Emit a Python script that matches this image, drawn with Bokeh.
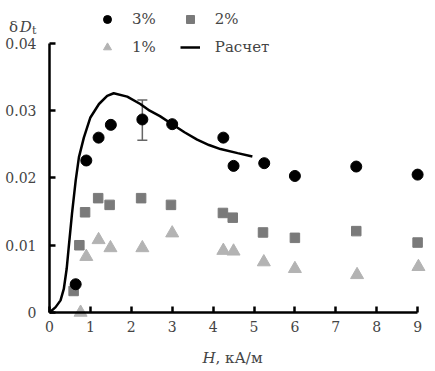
from bokeh.plotting import figure
from bokeh.models import (Range1d, LinearAxis, FixedTicker, CustomJSTickFormatter, Legend, LegendItem,
                          Label, Whisker, TeeHead, ColumnDataSource)
from bokeh.embed import file_html
from bokeh.resources import INLINE

# ---- data ----
h3 = [0.64, 0.9, 1.2, 1.5, 2.27, 3.0, 4.25, 4.5, 5.25, 6.0, 7.5, 9.0]
d3 = [0.0042, 0.0226, 0.0260, 0.0279, 0.0287, 0.0280, 0.0260, 0.0218, 0.0222, 0.0203, 0.0217, 0.0205]

h2 = [0.59, 0.73, 0.87, 1.19, 1.47, 2.24, 2.97, 4.24, 4.48, 5.22, 6.0, 7.5, 9.0]
d2 = [0.0032, 0.0100, 0.0149, 0.0170, 0.0160, 0.0170, 0.0160, 0.0148, 0.0141, 0.0119, 0.0111, 0.0121, 0.0104]

h1 = [0.76, 0.9, 1.2, 1.49, 2.27, 3.0, 4.25, 4.5, 5.24, 6.0, 7.52, 9.02]
d1 = [0.0, 0.0083, 0.0108, 0.0096, 0.0096, 0.0118, 0.0092, 0.0091, 0.0075, 0.0065, 0.0056, 0.0068]

calc_h = [0.0, 0.15, 0.27, 0.35, 0.42, 0.47, 0.55, 0.64, 0.72, 0.84, 1.0, 1.21, 1.41, 1.57,
          1.9, 2.22, 2.45, 2.7, 3.0, 3.3, 3.61, 3.9, 4.18, 4.6, 4.96]
calc_d = [0.0, 0.0008, 0.0018, 0.0035, 0.0065, 0.0097, 0.0147, 0.0196, 0.0231, 0.0260, 0.0290,
          0.0310, 0.0322, 0.0326, 0.0321, 0.0310, 0.0300, 0.0292, 0.0280, 0.0268, 0.0257,
          0.0249, 0.0243, 0.0237, 0.0232]

err_h = [2.27]
err_lo = [0.0256]
err_hi = [0.0316]

x_ticks = [0, 1, 2, 3, 4, 5, 6, 7, 8, 9]
y_ticks = [0, 0.01, 0.02, 0.03, 0.04]

FONT = "DejaVu Serif"

p = figure(width=434, height=370, output_backend="svg", toolbar_location=None,
           x_range=Range1d(-1.198, 9.413), y_range=Range1d(-0.008625, 0.04639),
           x_axis_type=None, y_axis_type=None, min_border=0)
p.outline_line_color = None
p.background_fill_color = "white"

xaxis = LinearAxis(fixed_location=0, bounds=(0, 9), ticker=FixedTicker(ticks=x_ticks),
                   major_tick_in=6, major_tick_out=0, minor_tick_in=0, minor_tick_out=0,
                   axis_line_width=2.5, major_tick_line_width=2.5,
                   major_label_text_font=FONT, major_label_text_font_size="14px",
                   major_label_standoff=9)
yaxis = LinearAxis(fixed_location=0, bounds=(0, 0.04), ticker=FixedTicker(ticks=y_ticks),
                   major_tick_in=6, major_tick_out=0, minor_tick_in=0, minor_tick_out=0,
                   axis_line_width=2.5, major_tick_line_width=2.5,
                   major_label_text_font=FONT, major_label_text_font_size="14px",
                   major_label_standoff=13,
                   formatter=CustomJSTickFormatter(code="return tick == 0 ? '0' : tick.toFixed(2);"))
p.add_layout(xaxis, "below")
p.add_layout(yaxis, "left")

r_calc = p.line(calc_h, calc_d, line_color="black", line_width=2.5)
src_err = ColumnDataSource(dict(x=err_h, lo=err_lo, hi=err_hi))
p.add_layout(Whisker(base="x", lower="lo", upper="hi", source=src_err,
                     line_color="#666666", line_width=1.5,
                     upper_head=TeeHead(size=10, line_color="#666666", line_width=1.5),
                     lower_head=TeeHead(size=10, line_color="#666666", line_width=1.5)))
r1 = p.scatter(h1, d1, marker="triangle", size=13, fill_color="#b3b3b3", line_color="#b3b3b3")
r2 = p.scatter(h2, d2, marker="square", size=9.5, fill_color="#7a7a7a", line_color="#7a7a7a")
r3 = p.scatter(h3, d3, marker="circle", size=11, fill_color="black", line_color="black")

def mk_legend(items, loc):
    lg = Legend(items=items, location=loc, orientation="horizontal",
                padding=0, margin=0, spacing=24, label_standoff=15,
                glyph_width=20, glyph_height=20, label_height=20,
                label_text_font=FONT, label_text_font_size="15px",
                border_line_alpha=0, background_fill_alpha=0)
    p.add_layout(lg)

mk_legend([LegendItem(label="3%", renderers=[r3]), LegendItem(label="2%", renderers=[r2])], (97, 341))
mk_legend([LegendItem(label="1%", renderers=[r1]), LegendItem(label="Расчет", renderers=[r_calc])], (97, 313))

# axis titles
p.add_layout(Label(x=-0.99, y=0.04238, text="δ", text_font=FONT, text_font_size="15px",
                   text_baseline="alphabetic"))
p.add_layout(Label(x=-0.73, y=0.04238, text="D", text_font=FONT, text_font_size="15px",
                   text_font_style="italic", text_baseline="alphabetic"))
p.add_layout(Label(x=-0.43, y=0.04193, text="t", text_font=FONT, text_font_size="11px",
                   text_baseline="alphabetic"))
p.add_layout(Label(x=3.74, y=-0.00684, text="H", text_font=FONT, text_font_size="15px",
                   text_font_style="italic", text_baseline="alphabetic"))
p.add_layout(Label(x=4.06, y=-0.00684, text=", кА/м", text_font=FONT, text_font_size="15px",
                   text_baseline="alphabetic"))

open("out.html", "w").write(file_html(p, INLINE))
